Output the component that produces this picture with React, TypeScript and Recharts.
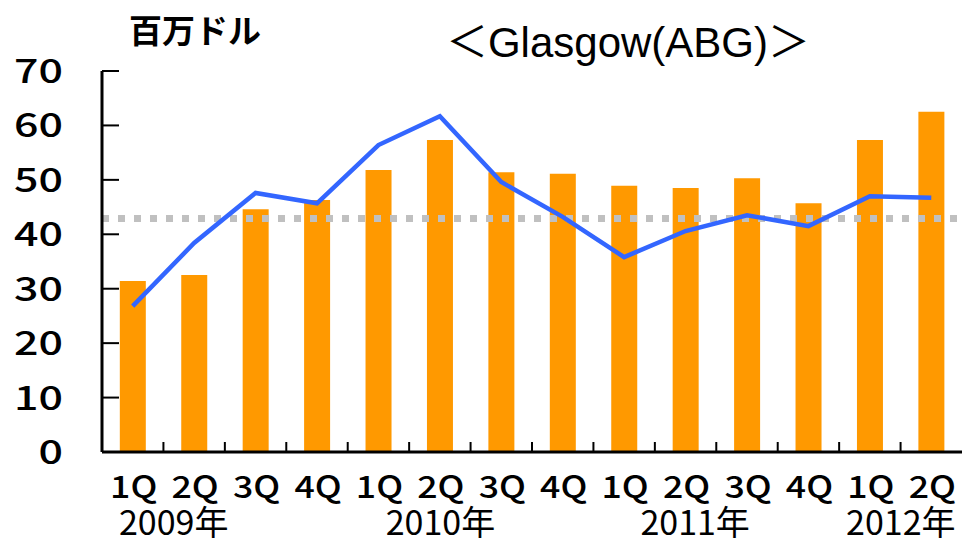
import { Bar, ComposedChart, Line, ReferenceLine, XAxis, YAxis } from "recharts";

const quarters = ["1Q", "2Q", "3Q", "4Q", "1Q", "2Q", "3Q", "4Q", "1Q", "2Q", "3Q", "4Q", "1Q", "2Q"];
// year label shown under a given category index, with its own horizontal nudge
const yearLabels: { index: number; text: string; dx: number }[] = [
  { index: 0, text: "2009年", dx: 41 },
  { index: 4, text: "2010年", dx: 62 },
  { index: 8, text: "2011年", dx: 71 },
  { index: 12, text: "2012年", dx: 31 },
];
const revenue = [31.4, 32.5, 44.6, 46.3, 51.8, 57.3, 51.4, 51.1, 48.9, 48.5, 50.3, 45.7, 57.3, 62.5];
const trend = [26.8, 38.4, 47.6, 45.7, 56.4, 61.7, 49.6, 43.2, 35.8, 40.6, 43.5, 41.5, 47.0, 46.7];
const average = 42.9;
const leftTicks = [0, 10, 20, 30, 40, 50, 60, 70];
const rightTicks = [0, 1, 2, 3, 4, 5];

const data = quarters.map((q, i) => ({ name: `${q}-${i}`, q, revenue: revenue[i], trend: trend[i] }));

const FONT = "'Noto Sans CJK JP', 'Noto Sans', sans-serif";

const LeftTick = (props: any) => {
  const { x, y, payload } = props;
  return (
    <g>
      <line x1={x} x2={x + 17} y1={y} y2={y} stroke="#000" strokeWidth={2} />
      <text
        transform={`translate(${x - 39},${y + 12}) scale(1.3,1)`}
        textAnchor="end"
        fontSize={33}
        fontFamily={FONT}
        fontWeight={500}
        fill="#000"
      >
        {payload.value}
      </text>
    </g>
  );
};

const BottomTick = (props: any) => {
  const { x, y, payload, index } = props;
  const half = payload.offset ?? 30.7;
  const year = yearLabels.find((l) => l.index === index);
  return (
    <g>
      {index < quarters.length - 1 && (
        <line x1={x + half} x2={x + half} y1={y} y2={y - 10} stroke="#000" strokeWidth={2} />
      )}
      <text
        transform={`translate(${x + 1},${y + 46}) scale(1.15,1)`}
        textAnchor="middle"
        fontSize={31}
        fontFamily={FONT}
        fontWeight={500}
        fill="#000"
      >
        {quarters[index]}
      </text>
      {year && (
        <text x={x + year.dx} y={y} dy={83} textAnchor="middle" fontSize={34} fontFamily={FONT} fill="#000">
          {year.text}
        </text>
      )}
    </g>
  );
};

export default function App() {
  return (
    <div style={{ position: "absolute", left: 0, top: 0, width: 963, height: 539, background: "#fff" }}>
      <ComposedChart
        width={963}
        height={539}
        data={data}
        margin={{ top: 71, right: 1, bottom: 0, left: 0 }}
        barCategoryGap="29%"
      >
        <text x={129} y={43} fontSize={33} fontWeight={700} fontFamily={FONT} fill="#000">
          百万ドル
        </text>
        <text x={628} y={57} textAnchor="middle" fontSize={42} fontFamily={`'Liberation Sans', Arial, ${FONT}`} fill="#000">
          ＜Glasgow(ABG)＞
        </text>
        <XAxis
          dataKey="name"
          height={87}
          axisLine={{ stroke: "#000", strokeWidth: 3 }}
          tickLine={false}
          tickSize={0}
          tickMargin={0}
          interval={0}
          tick={<BottomTick />}
        />
        <YAxis
          yAxisId="left"
          width={102}
          domain={[0, 70]}
          ticks={leftTicks}
          interval={0}
          axisLine={{ stroke: "#000", strokeWidth: 3 }}
          tickLine={false}
          tickSize={0}
          tickMargin={0}
          tick={<LeftTick />}
        />
        <YAxis
          yAxisId="right"
          orientation="right"
          width={0}
          mirror
          domain={[0, 5]}
          ticks={rightTicks}
          interval={0}
          axisLine={{ stroke: "#000", strokeWidth: 3 }}
          tickLine={{ stroke: "#000", strokeWidth: 2 }}
          tickSize={16}
          tick={false}
        />
        <Bar yAxisId="left" dataKey="revenue" fill="#FF9900" isAnimationActive={false} />
        <ReferenceLine
          yAxisId="left"
          y={average}
          stroke="#C0C0C0"
          strokeWidth={7}
          strokeDasharray="7 9"
          ifOverflow="extendDomain"
        />
        <Line
          yAxisId="left"
          type="linear"
          dataKey="trend"
          stroke="#3366FF"
          strokeWidth={4.5}
          dot={false}
          isAnimationActive={false}
        />
      </ComposedChart>
    </div>
  );
}
